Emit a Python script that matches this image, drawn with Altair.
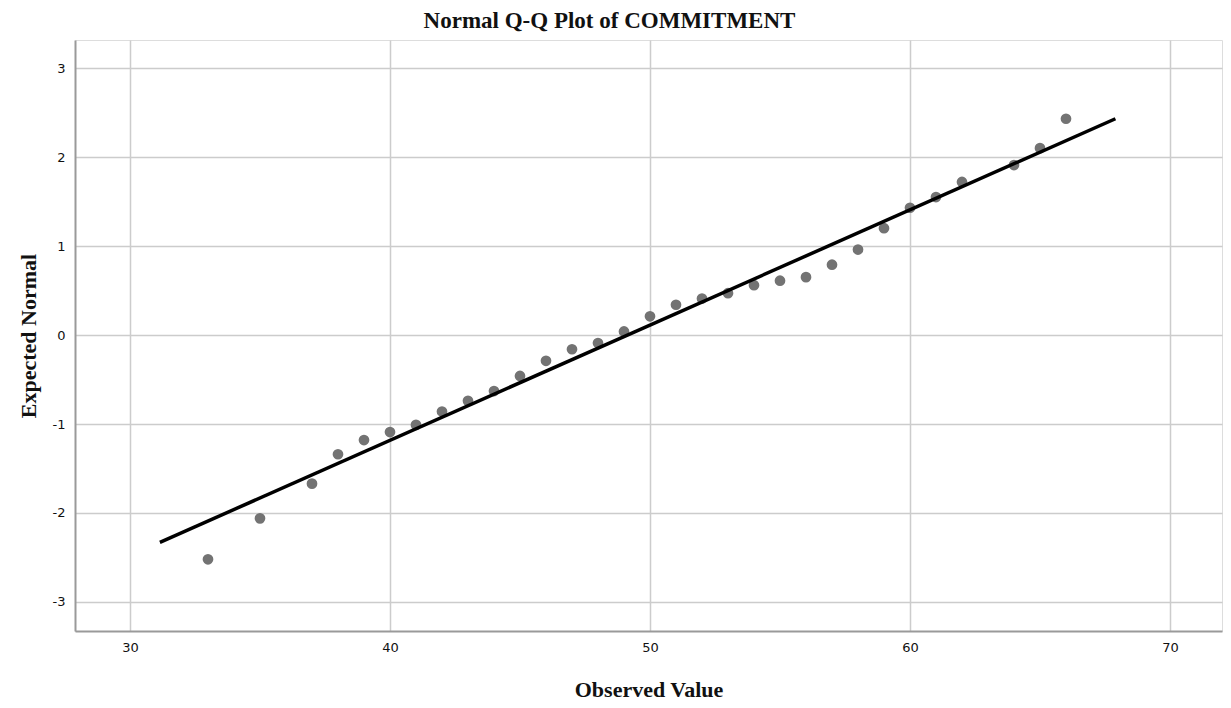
import altair as alt
import pandas as pd

observed = [33, 35, 37, 38, 39, 40, 41, 42, 43, 44, 45, 46, 47, 48, 49, 50,
            51, 52, 53, 54, 55, 56, 57, 58, 59, 60, 61, 62, 64, 65, 66]
expected = [-2.52, -2.06, -1.67, -1.34, -1.18, -1.09, -1.01, -0.86, -0.74, -0.63,
            -0.46, -0.29, -0.16, -0.09, 0.04, 0.21, 0.34, 0.41, 0.47, 0.56,
            0.61, 0.65, 0.79, 0.96, 1.20, 1.43, 1.55, 1.72, 1.91, 2.10, 2.43]

# Reference line end points
line_x = [31.15, 67.9]
line_y = [-2.33, 2.43]

x_ticks = [30, 40, 50, 60, 70]
y_ticks = [-3, -2, -1, 0, 1, 2, 3]

pts = pd.DataFrame({"obs": observed, "exp": expected})
ln = pd.DataFrame({"obs": line_x, "exp": line_y})

xscale = alt.Scale(domain=[27.885, 72.0], nice=False, zero=False)
yscale = alt.Scale(domain=[-3.326, 3.315], nice=False, zero=False)

label_expr = "datum.value < 0 ? '-' + abs(datum.value) : '' + datum.value"

xaxis = alt.Axis(title="Observed Value", values=x_ticks, labelExpr=label_expr,
                 titleFont="Liberation Serif", titleFontSize=22, titleFontWeight="bold",
                 titleColor="#111111", titlePadding=25,
                 labelFont="DejaVu Sans", labelFontSize=13, labelColor="#111111",
                 labelPadding=10, ticks=False, domainColor="#9a9a9a", domainWidth=2,
                 gridColor="#cccccc", gridWidth=1.5)
yaxis = alt.Axis(title="Expected Normal", values=y_ticks, labelExpr=label_expr,
                 titleFont="Liberation Serif", titleFontSize=22, titleFontWeight="bold",
                 titleColor="#111111", titlePadding=12,
                 labelFont="DejaVu Sans", labelFontSize=13, labelColor="#111111",
                 labelPadding=10, ticks=False, domainColor="#9a9a9a", domainWidth=2,
                 gridColor="#cccccc", gridWidth=1.5)

points = alt.Chart(pts).mark_circle(size=115, color="#737373", opacity=1).encode(
    x=alt.X("obs:Q", scale=xscale, axis=xaxis),
    y=alt.Y("exp:Q", scale=yscale, axis=yaxis),
)

line = alt.Chart(ln).mark_line(color="#000000", strokeWidth=3.5).encode(
    x=alt.X("obs:Q", scale=xscale),
    y=alt.Y("exp:Q", scale=yscale),
)

chart = (points + line).properties(
    width=1147,
    height=591,
    autosize=alt.AutoSizeParams(type="none"),
    padding={"left": 67, "top": 32, "right": 1, "bottom": 69},
    title=alt.TitleParams(
        "Normal Q-Q Plot of COMMITMENT",
        font="Liberation Serif", fontSize=23, fontWeight="bold", color="#111111",
        anchor="middle", dx=-39, offset=7,
    ),
).configure_view(stroke=None).configure(background="white")

chart.save("out.html", embed_options={"renderer": "svg", "actions": False})
